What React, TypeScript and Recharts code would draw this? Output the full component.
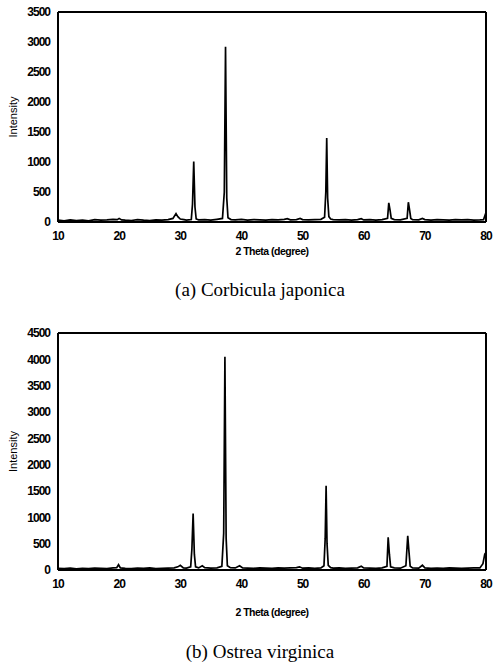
import React from 'react'
import { LineChart, Line, XAxis, YAxis, ReferenceLine } from 'recharts'

// ---- (a) Corbicula japonica: 2-theta positions and intensity
const thetaA = [
  10, 11, 12, 13, 14, 15, 16, 17, 18, 19, 19.7, 20, 20.4, 21, 22, 23, 24, 25, 26, 27, 28,
  28.8, 29.3, 29.6, 30, 30.6, 31, 31.8, 32.0, 32.2, 32.4, 32.6, 33, 34, 35, 36, 36.9,
  37.2, 37.4, 37.6, 37.8, 38.3, 39, 40, 41, 42, 43, 44, 45, 46, 47, 47.5, 48, 49, 49.6,
  50, 51, 52, 53, 53.6, 53.8, 53.95, 54.1, 54.3, 54.6, 55, 56, 57, 58, 59, 59.6, 60, 61,
  62, 63, 63.9, 64.1, 64.3, 64.5, 65, 66, 67.1, 67.3, 67.5, 67.7, 68, 69, 69.6, 70, 71,
  72, 73, 74, 75, 76, 77, 78, 79, 79.6, 79.8, 80,
]
const intensityA = [
  30, 20, 35, 25, 30, 20, 40, 30, 35, 45, 40, 60, 35, 30, 25, 40, 30, 25, 35, 30, 40,
  60, 140, 90, 50, 40, 30, 40, 300, 1010, 250, 50, 35, 40, 30, 45, 60,
  500, 2920, 400, 70, 40, 35, 45, 30, 40, 35, 30, 40, 35, 45, 55, 35, 40, 60,
  40, 35, 40, 45, 80, 500, 1400, 400, 90, 50, 40, 35, 40, 30, 40, 55, 35, 40,
  30, 40, 60, 320, 200, 60, 40, 35, 60, 330, 200, 60, 40, 35, 60, 40, 30,
  40, 35, 30, 40, 35, 40, 30, 35, 40, 100, 160,
]

// ---- (b) Ostrea virginica
const thetaB = [
  10, 11, 12, 13, 14, 15, 16, 17, 18, 19, 19.6, 19.9, 20.2, 21, 22, 23, 24, 25, 26, 27,
  28, 29, 29.6, 30, 30.5, 31, 31.7, 31.9, 32.1, 32.3, 32.5, 33, 33.6, 34, 35, 36, 36.8,
  37.1, 37.3, 37.5, 37.7, 38.2, 39, 39.7, 40.2, 41, 42, 43, 44, 45, 46, 47, 48, 49, 49.5,
  50, 51, 52, 53, 53.5, 53.7, 53.85, 54.0, 54.2, 54.6, 55, 56, 57, 58, 59, 59.6, 60,
  61, 62, 63, 63.8, 64.0, 64.2, 64.4, 65, 66, 66.9, 67.2, 67.4, 67.6, 68, 69, 69.6,
  70, 71, 72, 73, 74, 75, 76, 77, 78, 79, 79.5, 79.8, 80,
]
const intensityB = [
  30, 25, 35, 20, 30, 25, 35, 30, 25, 40, 45, 100, 40, 30, 25, 35, 30, 40, 25, 30,
  35, 40, 60, 90, 40, 35, 60, 400, 1070, 300, 60, 40, 80, 45, 35, 40, 70,
  700, 4050, 600, 80, 45, 40, 80, 40, 35, 30, 40, 35, 30, 40, 35, 40, 45, 60,
  35, 40, 30, 40, 80, 600, 1600, 500, 90, 45, 35, 40, 30, 35, 40, 70, 40,
  35, 30, 40, 70, 620, 300, 60, 40, 35, 80, 650, 350, 70, 40, 35, 90,
  40, 30, 35, 30, 40, 35, 30, 35, 40, 40, 120, 300, 330,
]

const xTicks = [10, 20, 30, 40, 50, 60, 70, 80]
const yTicksA = [0, 500, 1000, 1500, 2000, 2500, 3000, 3500]
const yTicksB = [0, 500, 1000, 1500, 2000, 2500, 3000, 3500, 4000, 4500]

const toRows = (theta: number[], intensity: number[]) =>
  theta.map((t, i) => ({ theta: t, intensity: intensity[i] }))

const tickStyle = {
  fill: '#000',
  fontSize: 12,
  fontWeight: 700,
  fontFamily: '"Liberation Sans Narrow", "Liberation Sans", Arial, sans-serif',
  letterSpacing: -1,
}

function XrdPanel({
  rows,
  yTicks,
  yMax,
  top,
  height,
  caption,
  labelGap,
  captionGap,
}: {
  rows: { theta: number; intensity: number }[]
  yTicks: number[]
  yMax: number
  top: number
  height: number
  caption: string
  labelGap: number
  captionGap: number
}) {
  const plotBottom = top + height - 28
  return (
    <>
      <div style={{ position: 'absolute', left: 0, top }}>
        <LineChart width={495} height={height} data={rows} margin={{ top: 12, right: 9, bottom: 0, left: 0 }}>
          <XAxis
            dataKey="theta"
            type="number"
            domain={[10, 80]}
            ticks={xTicks}
            tickLine={false}
            height={28}
            tickMargin={3}
            axisLine={{ stroke: '#000', strokeWidth: 2 }}
            tick={tickStyle}
            allowDataOverflow
          />
          <YAxis
            type="number"
            domain={[0, yMax]}
            ticks={yTicks}
            tickLine={false}
            width={58}
            tick={tickStyle}
            axisLine={{ stroke: '#000', strokeWidth: 2 }}
            label={{
              value: 'Intensity',
              angle: -90,
              position: 'insideLeft',
              offset: 13,
              style: { fontSize: 11, fill: '#000', fontFamily: '"Liberation Sans", Arial, sans-serif', textAnchor: 'middle' },
            }}
          />
          {/* frame: top and right borders */}
          <ReferenceLine y={yMax} stroke="#000" strokeWidth={2} />
          <ReferenceLine x={80} stroke="#000" strokeWidth={2} />
          <Line
            dataKey="intensity"
            type="linear"
            stroke="#000"
            strokeWidth={1.7}
            dot={false}
            isAnimationActive={false}
          />
        </LineChart>
      </div>
      <div
        style={{
          position: 'absolute',
          left: 58,
          width: 428,
          top: plotBottom + labelGap - 6,
          textAlign: 'center',
          fontFamily: '"Liberation Sans", Arial, sans-serif',
          fontWeight: 700,
          fontSize: 10.5,
          letterSpacing: -0.5,
          lineHeight: '12px',
        }}
      >
        2 Theta (degree)
      </div>
      <div
        style={{
          position: 'absolute',
          left: 20,
          width: 480,
          top: plotBottom + captionGap - 11,
          textAlign: 'center',
          fontFamily: '"Liberation Serif", "Times New Roman", serif',
          fontSize: 19,
          lineHeight: '22px',
        }}
      >
        {caption}
      </div>
    </>
  )
}

export default function App() {
  return (
    <div style={{ position: 'absolute', left: 0, top: 0, width: 495, height: 666, background: '#fff', overflow: 'hidden' }}>
      <XrdPanel
        rows={toRows(thetaA, intensityA)}
        yTicks={yTicksA}
        yMax={3500}
        top={0}
        height={250}
        caption="(a) Corbicula japonica"
        labelGap={29}
        captionGap={68}
      />
      <XrdPanel
        rows={toRows(thetaB, intensityB)}
        yTicks={yTicksB}
        yMax={4500}
        top={321}
        height={277}
        caption="(b) Ostrea virginica"
        labelGap={42}
        captionGap={82}
      />
    </div>
  )
}
